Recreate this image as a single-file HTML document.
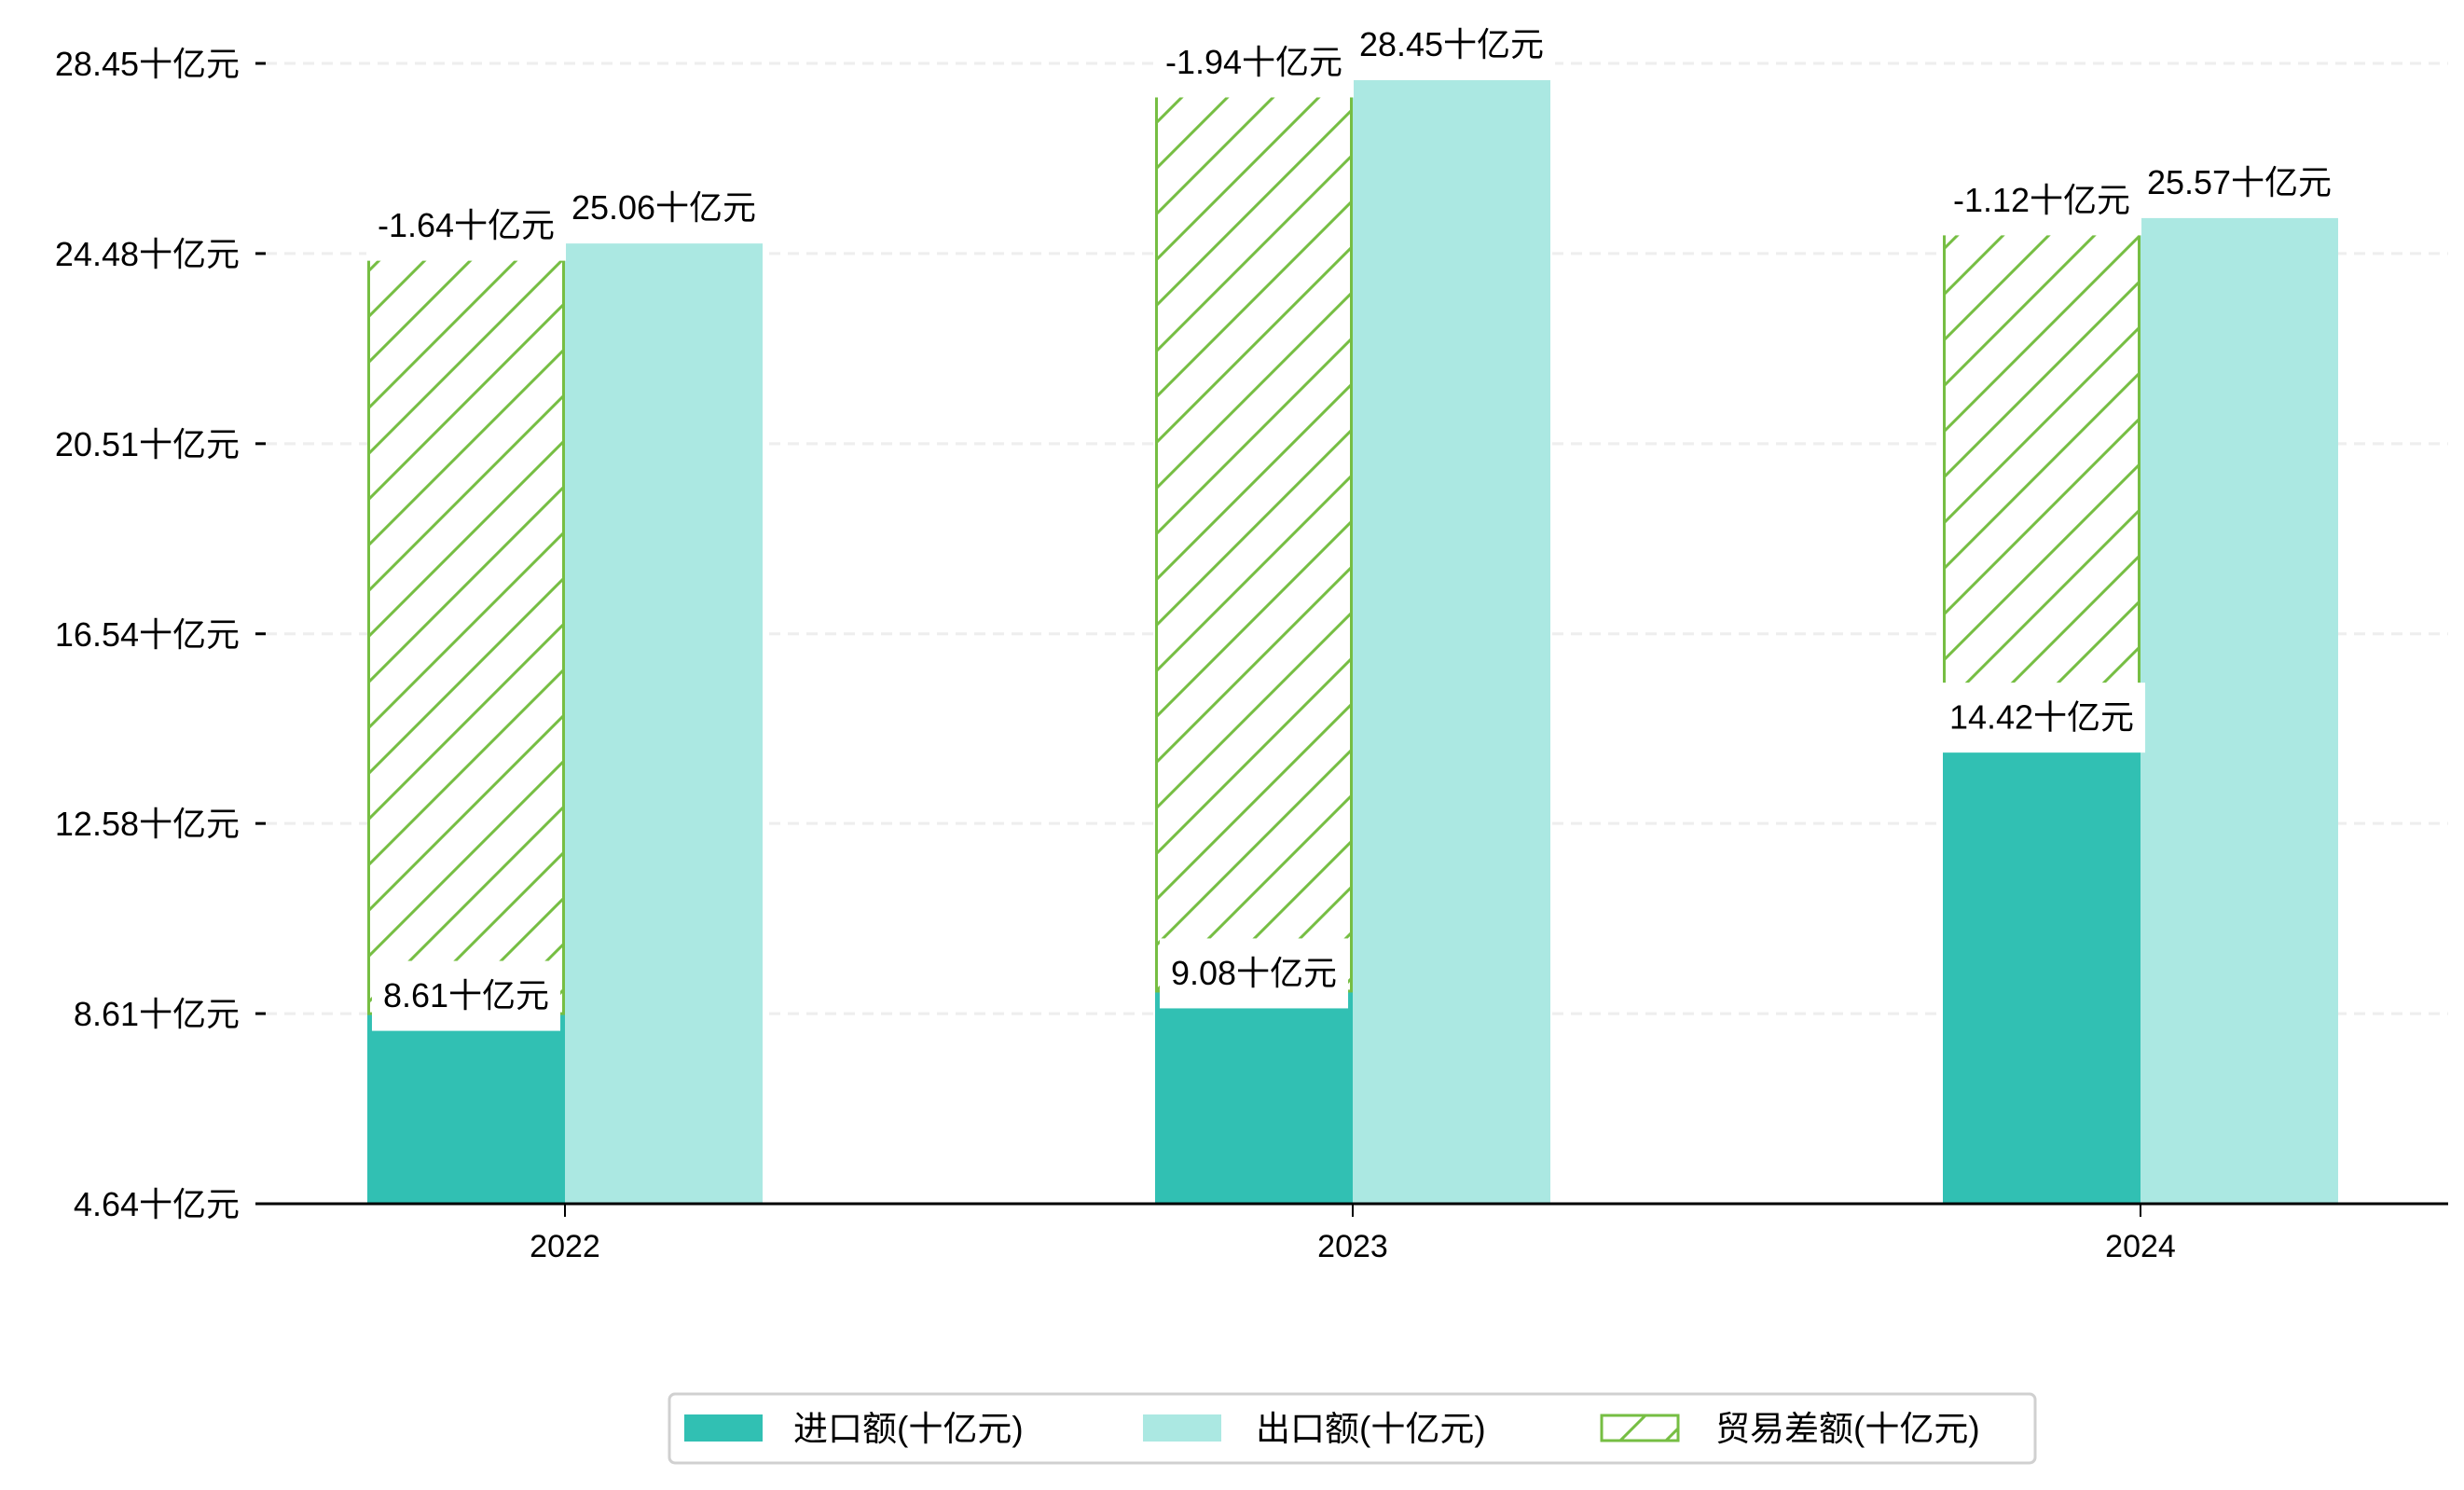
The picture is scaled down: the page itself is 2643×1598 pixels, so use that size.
<!DOCTYPE html>
<html><head><meta charset="utf-8"><style>
html,body{margin:0;padding:0;background:#fff;}
svg{display:block;font-family:"Liberation Sans","Noto Sans CJK SC",sans-serif;}
</style></head><body>
<svg id="chart" width="2643" height="1598" viewBox="0 0 2643 1598" xmlns="http://www.w3.org/2000/svg">
<defs>
<pattern id="hatch" patternUnits="userSpaceOnUse" width="49" height="49">
<rect width="49" height="49" fill="#fff"/>
<path d="M-12,12 L12,-12 M0,49 L49,0 M37,61 L61,37" stroke="#76BE43" stroke-width="3"/>
</pattern>
</defs>
<g id="grid"></g>
<g id="bars"></g>
<g id="labels"></g>
<g id="axes"></g>
<g>
<rect x="718" y="1495" width="1465" height="74" rx="6" fill="#fff" stroke="#d0d0d0" stroke-width="3"/>
<rect x="734" y="1517" width="84" height="29" fill="#31C0B3"/>
<text x="851" y="1545" font-size="37">进口额(十亿元)</text>
<rect x="1226" y="1517" width="84" height="29" fill="#ABE8E2"/>
<text x="1347" y="1545" font-size="37">出口额(十亿元)</text>
<rect x="1718" y="1518" width="82" height="27" fill="url(#hatch)" stroke="#76BE43" stroke-width="3"/>
<text x="1840" y="1545" font-size="37">贸易差额(十亿元)</text>
</g>
</svg>
<script>
const categories = ["2022", "2023", "2024"];
const importValues = [8.61, 9.08, 14.42];
const exportValues = [24.69, 28.10, 25.22];
const exportLabels = ["25.06", "28.45", "25.57"];
const balanceValues = [-1.64, -1.94, -1.12];
const yTicks = [4.64, 8.61, 12.58, 16.54, 20.51, 24.48, 28.45];

const NS = "http://www.w3.org/2000/svg";
const X0 = 285, X1 = 2626, YB = 1291, YT = 68;
const yMin = 4.64, yMax = 28.45;
function y(v){ return YB - (v - yMin) / (yMax - yMin) * (YB - YT); }
const barW = 212, groupStart = 394, groupStep = 845;
function xImport(i){ return groupStart + i * groupStep; }
function xExport(i){ return xImport(i) + barW; }
function mk(tag, attrs, parent){ const e = document.createElementNS(NS, tag); for (const k in attrs) e.setAttribute(k, attrs[k]); parent.appendChild(e); return e; }

const grid = document.getElementById("grid"), bars = document.getElementById("bars"),
      labels = document.getElementById("labels"), axes = document.getElementById("axes");

yTicks.forEach((t) => {
  if (t === yMin) return;
  const l = mk("line", {x1: X0, x2: X1, y1: y(t), y2: y(t), stroke: "#eeeeee", "stroke-width": 3, "stroke-dasharray": "12 8"}, grid);
  
  
});

categories.forEach((c, i) => {
  const imp = mk("rect", {x: xImport(i), y: y(importValues[i]), width: barW, height: YB - y(importValues[i]), fill: "#31C0B3"}, bars);
  
  
  const ex = mk("rect", {x: xExport(i), y: y(exportValues[i]), width: barW, height: YB - y(exportValues[i]), fill: "#ABE8E2"}, bars);
  
  
  const hb = mk("rect", {x: xImport(i) + 1.5, y: y(exportValues[i]), width: barW - 3, height: y(importValues[i]) - y(exportValues[i]), fill: "url(#hatch)", stroke: "#76BE43", "stroke-width": 3}, bars);
  
  
});

function label(text, cx, cy, name){
  const g = mk("g", {}, labels);
  
  
  const t = mk("text", {x: cx, y: cy + 12, "font-size": 36, "text-anchor": "middle", fill: "#000"}, g);
  t.textContent = text;
  const w = t.getComputedTextLength();
  const r = mk("rect", {x: cx - w / 2 - 12, y: cy - 37.5, width: w + 24, height: 75, fill: "#fff"}, g);
  g.insertBefore(r, t);
}
categories.forEach((c, i) => label(importValues[i].toFixed(2) + "十亿元", xImport(i) + barW / 2, y(importValues[i]) - 19, 'import-label-' + c));
categories.forEach((c, i) => label(exportLabels[i] + "十亿元", xExport(i) + barW / 2, y(exportValues[i]) - 38, 'export-label-' + c));
categories.forEach((c, i) => label(balanceValues[i].toFixed(2) + "十亿元", xImport(i) + barW / 2, y(exportValues[i]) - 19, 'balance-label-' + c));

const base = mk("line", {x1: X0, x2: X1, y1: YB, y2: YB, stroke: "#000", "stroke-width": 3}, axes);


yTicks.forEach((t) => {
  const tk = mk("line", {x1: 274, x2: 285, y1: y(t), y2: y(t), stroke: "#000", "stroke-width": 3}, axes);
  
  
  const tl = mk("text", {x: 257, y: y(t) + 13, "font-size": 36, "text-anchor": "end"}, axes);
  
  
  tl.textContent = t.toFixed(2) + "十亿元";
});
categories.forEach((c, i) => {
  const cx = xExport(i);
  const tk = mk("line", {x1: cx, x2: cx, y1: YB, y2: YB + 14, stroke: "#000", "stroke-width": 2}, axes);
  
  
  const tl = mk("text", {x: cx, y: 1348, "font-size": 34, "text-anchor": "middle"}, axes);
  
  
  tl.textContent = c;
});
</script>
</body></html>
